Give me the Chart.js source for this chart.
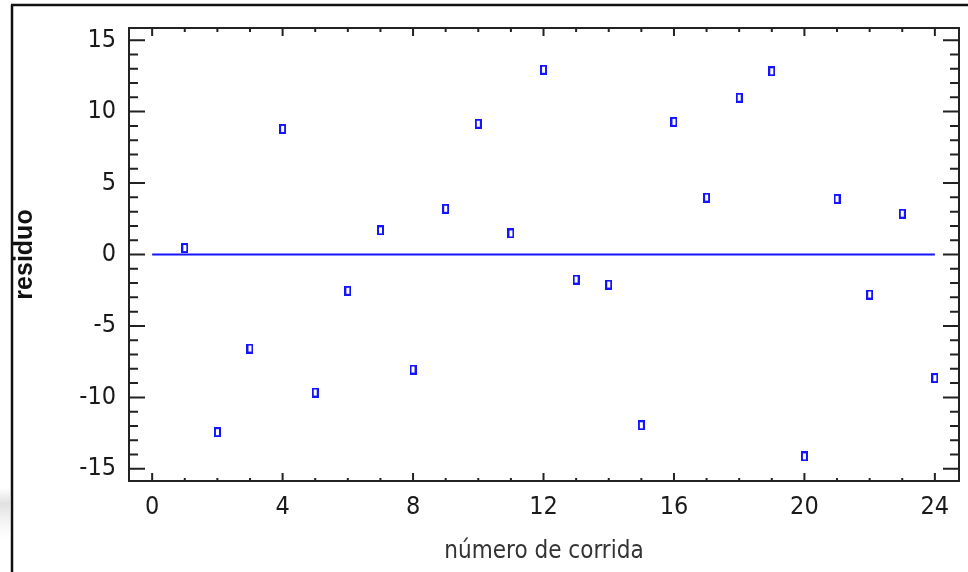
<!DOCTYPE html>
<html>
<head>
<meta charset="utf-8">
<script src="https://cdn.jsdelivr.net/npm/chart.js@4.4.1/dist/chart.umd.min.js"></script>
<style>
  html, body { margin: 0; padding: 0; background: #fff; }
  #wrap { position: relative; width: 968px; height: 572px; }
</style>
</head>
<body>
<div id="wrap"><canvas id="c" width="968" height="572"></canvas></div>
<script>
// ---- data ----
const runs = [1, 2, 3, 4, 5, 6, 7, 8, 9, 10, 11, 12, 13, 14, 15, 16, 17, 18, 19, 20, 21, 22, 23, 24];
const residuals = [0.45, -12.43, -6.58, 8.79, -9.66, -2.54, 1.69, -8.05, 3.20, 9.15, 1.47, 12.93,
                   -1.75, -2.10, -11.95, 9.28, 3.98, 10.97, 12.82, -14.13, 3.89, -2.80, 2.86, -8.65];
const zeroLineX = [0, 24];
const zeroLineY = [0, 0];
const xTickLabels = [0, 4, 8, 12, 16, 20, 24];
const yTickLabels = [-15, -10, -5, 0, 5, 10, 15];

// ---- styles ----
const NARROW = "'Liberation Sans Narrow', 'Arial Narrow', 'DejaVu Sans Condensed', sans-serif";
const BLUE = '#1414ff';

// hollow rectangular marker
const marker = document.createElement('canvas');
marker.width = 7; marker.height = 10;
(function () {
  const m = marker.getContext('2d');
  m.fillStyle = BLUE;
  m.fillRect(0, 0, 7, 10);
  m.clearRect(2, 2, 3, 6);
})();

const framePlugin = {
  id: 'frame',
  beforeDraw(chart) {
    const ctx = chart.ctx;
    ctx.save();
    ctx.fillStyle = '#fff';
    ctx.fillRect(0, 0, chart.width, chart.height);
    const g = ctx.createLinearGradient(0, 488, 0, 540);
    g.addColorStop(0, 'rgba(225,225,225,0)');
    g.addColorStop(0.3, 'rgba(225,225,225,1)');
    g.addColorStop(1, 'rgba(240,240,240,0)');
    ctx.fillStyle = g;
    ctx.fillRect(0, 488, 10, 52);
    ctx.strokeStyle = '#111';
    ctx.lineWidth = 2.5;
    ctx.beginPath();
    ctx.moveTo(11, 5); ctx.lineTo(chart.width, 5);
    ctx.moveTo(12, 5); ctx.lineTo(12, chart.height);
    ctx.stroke();
    ctx.restore();
  },
  afterDraw(chart) {
    const { ctx, chartArea: a, scales: { x, y } } = chart;
    ctx.save();
    ctx.strokeStyle = '#222';
    ctx.lineWidth = 2;
    ctx.strokeRect(a.left, a.top, a.right - a.left, a.bottom - a.top);
    ctx.beginPath();
    for (let v = Math.ceil(y.min); v <= Math.floor(y.max); v++) {
      const py = y.getPixelForValue(v);
      const len = (v % 5 === 0) ? 16 : 9;
      ctx.moveTo(a.left, py); ctx.lineTo(a.left + len, py);
      ctx.moveTo(a.right, py); ctx.lineTo(a.right - len, py);
    }
    for (let v = Math.ceil(x.min); v <= Math.floor(x.max); v++) {
      const px = x.getPixelForValue(v);
      const major = (v % 4 === 0);
      ctx.moveTo(px, a.top); ctx.lineTo(px, a.top + (major ? 8 : 4));
      ctx.moveTo(px, a.bottom); ctx.lineTo(px, a.bottom - (major ? 8 : 3));
    }
    ctx.stroke();
    ctx.restore();
  }
};

new Chart(document.getElementById('c'), {
  type: 'scatter',
  data: {
    datasets: [
      {
        data: zeroLineX.map((xv, i) => ({ x: xv, y: zeroLineY[i] })),
        showLine: true,
        borderColor: BLUE,
        borderWidth: 2,
        pointRadius: 0,
        fill: false,
        order: 2
      },
      {
        data: runs.map((r, i) => ({ x: r, y: residuals[i] })),
        pointStyle: marker,
        pointRadius: 5,
        order: 1
      }
    ]
  },
  options: {
    responsive: false,
    animation: false,
    events: [],
    layout: { padding: { top: 27, right: 9, left: 0, bottom: 0 } },
    plugins: { legend: { display: false }, tooltip: { enabled: false } },
    scales: {
      x: {
        type: 'linear',
        min: -0.71,
        max: 24.74,
        afterBuildTicks: s => { s.ticks = xTickLabels.map(v => ({ value: v })); },
        afterFit: s => { s.height = 91; },
        grid: { display: false, drawTicks: false },
        border: { display: false },
        ticks: { padding: 11, autoSkip: false, maxRotation: 0, color: '#1a1a1a',
                 font: { family: NARROW, size: 25 } },
        title: { display: true, text: 'número de corrida', color: '#333',
                 font: { family: NARROW, size: 24 }, padding: { top: 6, bottom: 6 } }
      },
      y: {
        type: 'linear',
        min: -15.85,
        max: 15.85,
        afterBuildTicks: s => { s.ticks = yTickLabels.map(v => ({ value: v })); },
        afterFit: s => { s.width = 129; },
        grid: { display: false, drawTicks: false },
        border: { display: false },
        ticks: { padding: 13, autoSkip: false, color: '#1a1a1a',
                 font: { family: NARROW, size: 25 } },
        title: { display: true, text: 'residuo', color: '#111',
                 font: { family: "'Liberation Sans', Arial, sans-serif", size: 25, weight: 'bold' },
                 padding: { top: 10, bottom: 10 } }
      }
    }
  },
  plugins: [framePlugin]
});
</script>
</body>
</html>
